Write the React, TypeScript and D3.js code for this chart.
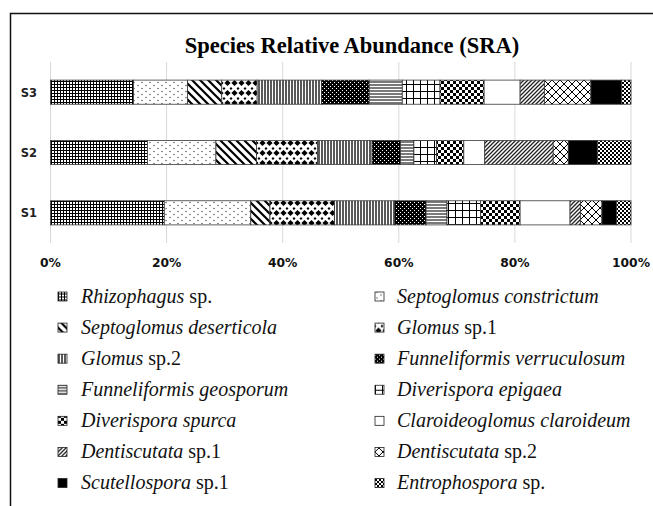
import React, { useRef, useEffect } from 'react';
import * as d3 from 'd3';

// stack order (left to right in each bar), same as legend reading order
const species = [
  "Rhizophagus sp.",
  "Septoglomus constrictum",
  "Septoglomus deserticola",
  "Glomus sp.1",
  "Glomus sp.2",
  "Funneliformis verruculosum",
  "Funneliformis geosporum",
  "Diverispora epigaea",
  "Diverispora spurca",
  "Claroideoglomus claroideum",
  "Dentiscutata sp.1",
  "Dentiscutata sp.2",
  "Scutellospora sp.1",
  "Entrophospora sp.",
];
// italic part / upright part of each legend label
const italicPart = [
  "Rhizophagus", "Septoglomus constrictum", "Septoglomus deserticola", "Glomus",
  "Glomus", "Funneliformis verruculosum", "Funneliformis geosporum", "Diverispora epigaea",
  "Diverispora spurca", "Claroideoglomus claroideum", "Dentiscutata", "Dentiscutata",
  "Scutellospora", "Entrophospora",
];
const plainPart = [" sp.", "", "", " sp.1", " sp.2", "", "", "", "", "", " sp.1", " sp.2", " sp.1", " sp."];

const samples = ["S3", "S2", "S1"];
const s1 = [19.6, 14.9, 3.3, 11.1, 10.4, 5.4, 3.6, 5.8, 6.8, 8.6, 1.8, 3.7, 2.5, 2.5];
const s2 = [16.7, 11.8, 7.0, 10.5, 9.4, 4.9, 2.3, 3.9, 4.7, 3.6, 11.8, 2.6, 5.0, 5.8];
const s3 = [14.3, 9.3, 5.9, 6.1, 11.1, 8.2, 5.7, 6.5, 7.6, 6.2, 4.2, 8.0, 5.3, 1.6];
const xTicks = [0, 20, 40, 60, 80, 100];

const W = 653, H = 506;

export default function App() {
  const svgRef = useRef(null);

  useEffect(() => {
    const svg = d3.select(svgRef.current);
    svg.selectAll("*").remove();

    const defs = svg.append("defs");
    const pat = (i, w, h, draw, bg = "#fff") => {
      const p = defs.append("pattern")
        .attr("id", "p" + i)
        .attr("patternUnits", "userSpaceOnUse")
        .attr("width", w).attr("height", h);
      p.append("rect").attr("width", w).attr("height", h).attr("fill", bg);
      draw(p);
    };
    const line = (p, d, sw, c = "#000") => p.append("path").attr("d", d).attr("stroke", c).attr("stroke-width", sw).attr("fill", "none");

    pat(0, 3, 3, p => line(p, "M0,0.5H3M0.5,0V3", 1));
    pat(1, 8, 6, p => {
      p.append("circle").attr("cx", 2).attr("cy", 1.5).attr("r", 0.7).attr("fill", "#444");
      p.append("circle").attr("cx", 6).attr("cy", 4.5).attr("r", 0.7).attr("fill", "#444");
    });
    pat(2, 8, 8, p => line(p, "M0,0L8,8M-4,4L4,12M4,-4L12,4", 2.2));
    pat(3, 7, 10, p => {
      p.append("path").attr("d", "M3.5,0L6.6,3L3.5,6L0.4,3Z").attr("fill", "#000");
      p.append("path").attr("d", "M0,7L1.5,8.5L0,10L-1.5,8.5ZM7,7L8.5,8.5L7,10L5.5,8.5Z").attr("fill", "#000");
    });
    pat(4, 3, 3, p => line(p, "M1,0V3", 1.3));
    pat(5, 4, 4, p => {
      p.append("rect").attr("x", 0).attr("y", 0).attr("width", 1).attr("height", 1).attr("fill", "#fff");
      p.append("rect").attr("x", 2).attr("y", 2).attr("width", 1).attr("height", 1).attr("fill", "#fff");
    }, "#000");
    pat(6, 3, 3, p => line(p, "M0,1H3", 1.2, "#222"));
    pat(7, 7, 7, p => line(p, "M0,0.5H7M0.5,0V7", 1));
    pat(8, 6, 6, p => {
      p.append("rect").attr("width", 3).attr("height", 3).attr("fill", "#000");
      p.append("rect").attr("x", 3).attr("y", 3).attr("width", 3).attr("height", 3).attr("fill", "#000");
    });
    pat(9, 4, 4, () => {});
    pat(10, 4, 4, p => line(p, "M0,4L4,0M-1,1L1,-1M3,5L5,3", 1.3, "#222"));
    pat(11, 8, 8, p => line(p, "M0,0L8,8M8,0L0,8", 1));
    pat(12, 4, 4, () => {}, "#000");
    pat(13, 4, 4, p => {
      p.append("rect").attr("width", 2).attr("height", 2).attr("fill", "#000");
      p.append("rect").attr("x", 2).attr("y", 2).attr("width", 2).attr("height", 2).attr("fill", "#000");
    });

    // outer frame
    svg.append("rect")
      .attr("x", 10.5).attr("y", 13.5)
      .attr("width", 700).attr("height", 600)
      .attr("fill", "#fff").attr("stroke", "#111").attr("stroke-width", 1.5);

    const x = d3.scaleLinear().domain([0, 100]).range([50.5, 631]);
    const y = d3.scaleBand().domain(samples).range([62, 243]).paddingInner(0.6).paddingOuter(0.3);

    // gridlines
    svg.append("g").selectAll("line").data(xTicks).join("line")
      .attr("x1", d => x(d)).attr("x2", d => x(d))
      .attr("y1", 62).attr("y2", 243)
      .attr("stroke", "#d9d9d9").attr("stroke-width", 1);

    // title
    svg.append("text")
      .attr("x", 352).attr("y", 53)
      .attr("text-anchor", "middle")
      .attr("font-family", "'Liberation Serif', serif")
      .attr("font-weight", "bold").attr("font-size", 22.5)
      .text("Species Relative Abundance (SRA)");

    const values = { S1: s1, S2: s2, S3: s3 };
    const table = samples.map(s => {
      const row = { sample: s };
      species.forEach((k, i) => { row[k] = values[s][i]; });
      return row;
    });
    const stacked = d3.stack().keys(species)(table);

    svg.append("g").selectAll("g").data(stacked).join("g")
      .attr("fill", (d, i) => `url(#p${i})`)
      .selectAll("rect").data(d => d).join("rect")
      .attr("x", d => x(d[0]))
      .attr("width", d => x(d[1]) - x(d[0]))
      .attr("y", d => y(d.data.sample))
      .attr("height", y.bandwidth())
      .attr("stroke", "#3a3a3a").attr("stroke-width", 0.8);

    // x axis labels
    svg.append("g").selectAll("text").data(xTicks).join("text")
      .attr("x", d => x(d)).attr("y", 267)
      .attr("text-anchor", "middle")
      .attr("font-family", "'DejaVu Sans', sans-serif")
      .attr("font-weight", "bold").attr("font-size", 12.3)
      .attr("fill", "#111")
      .text(d => d + "%");

    // y axis labels
    svg.append("g").selectAll("text").data(samples).join("text")
      .attr("x", 37).attr("y", d => y(d) + y.bandwidth() / 2 + 4.5)
      .attr("text-anchor", "end")
      .attr("font-family", "'DejaVu Sans', sans-serif")
      .attr("font-weight", "bold").attr("font-size", 11.5)
      .attr("fill", "#222")
      .text(d => d);

    // legend, two columns
    const rowY = d3.scaleLinear().domain([0, 6]).range([296.5, 483]);
    const leg = svg.append("g").selectAll("g").data(species).join("g")
      .attr("transform", (d, i) => `translate(${i % 2 === 0 ? 58 : 375},${rowY(Math.floor(i / 2))})`);
    leg.append("rect")
      .attr("x", 0).attr("y", -4.5).attr("width", 9).attr("height", 9)
      .attr("fill", (d, i) => `url(#p${i})`)
      .attr("stroke", "#222").attr("stroke-width", 0.8);
    const lt = leg.append("text")
      .attr("x", (d, i) => i % 2 === 0 ? 23 : 22).attr("y", 6)
      .attr("font-family", "'Liberation Serif', serif")
      .attr("font-size", 20).attr("fill", "#111");
    lt.append("tspan").attr("font-style", "italic").text((d, i) => italicPart[i]);
    lt.append("tspan").text((d, i) => plainPart[i]);
  }, []);

  return (
    <svg ref={svgRef} width={W} height={H}
      style={{ position: "absolute", left: 0, top: 0, background: "#fff" }} />
  );
}
